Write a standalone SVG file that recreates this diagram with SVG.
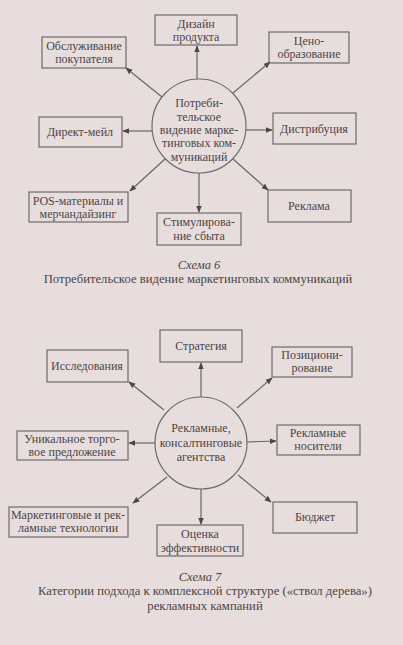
<svg xmlns="http://www.w3.org/2000/svg" width="403" height="645" viewBox="0 0 403 645" font-family="'Liberation Serif', 'Times New Roman', 'DejaVu Serif', serif">
<style>
.bg{fill:#e8dddd}
.box{fill:none;stroke:#6e6a6a;stroke-width:1.2}
.hub{fill:none;stroke:#6e6a6a;stroke-width:1.2}
text{font-family:'Liberation Serif','Times New Roman','DejaVu Serif',serif;font-size:12px;fill:#4a4646;text-anchor:middle}
.cap{font-style:italic;font-size:12.5px}
.capt{font-size:12.7px}
.edge{stroke:#6a6666;stroke-width:1.2;fill:none;marker-end:url(#ah)}
</style>
<defs>
<marker id="ah" viewBox="0 0 10 10" refX="9" refY="5" markerWidth="7" markerHeight="7" markerUnits="userSpaceOnUse" orient="auto">
<path d="M0,1 L10,5 L0,9 z" fill="#4a4646"/>
</marker>
</defs>
<rect class="bg" x="0" y="0" width="403" height="645"/>

<!-- Diagram 6 -->
<g id="hub6">
<circle class="hub" cx="199" cy="126" r="47"/>
<text x="199" y="107">Потреби-</text>
<text x="199" y="121">тельское</text>
<text x="199" y="134">видение марке-</text>
<text x="199" y="147">тинговых ком-</text>
<text x="199" y="161">муникаций</text>
</g>
<g id="n6-design"><rect class="box" x="155" y="15" width="82" height="30"/><text x="196" y="28">Дизайн</text><text x="196" y="41">продукта</text></g>
<g id="n6-service"><rect class="box" x="42" y="37" width="84" height="31"/><text x="84" y="50">Обслуживание</text><text x="84" y="63">покупателя</text></g>
<g id="n6-price"><rect class="box" x="269" y="32" width="80" height="31"/><text x="309" y="45">Цено-</text><text x="309" y="58">образование</text></g>
<g id="n6-direct"><rect class="box" x="39" y="117" width="83" height="30"/><text x="80" y="136">Директ-мейл</text></g>
<g id="n6-distr"><rect class="box" x="273" y="113" width="83" height="31"/><text x="314" y="133">Дистрибуция</text></g>
<g id="n6-pos"><rect class="box" x="29" y="192" width="99" height="30"/><text x="78" y="205">POS-материалы и</text><text x="78" y="218">мерчандайзинг</text></g>
<g id="n6-promo"><rect class="box" x="157" y="213" width="84" height="32"/><text x="199" y="226">Стимулирова-</text><text x="199" y="240">ние сбыта</text></g>
<g id="n6-ads"><rect class="box" x="268" y="190" width="83" height="32"/><text x="309" y="210">Реклама</text></g>

<g id="edges6">
<line class="edge" x1="197" y1="79" x2="197" y2="46"/>
<line class="edge" x1="162" y1="97" x2="126" y2="68"/>
<line class="edge" x1="233" y1="93" x2="270" y2="62"/>
<line class="edge" x1="152" y1="131" x2="123" y2="131"/>
<line class="edge" x1="246" y1="130" x2="272" y2="130"/>
<line class="edge" x1="165" y1="159" x2="130" y2="191"/>
<line class="edge" x1="199" y1="173" x2="199" y2="212"/>
<line class="edge" x1="233" y1="159" x2="268" y2="190"/>
</g>

<text class="cap" x="199" y="269">Схема 6</text>
<text class="capt" x="198" y="283">Потребительское видение маркетинговых коммуникаций</text>

<!-- Diagram 7 -->
<g id="hub7">
<circle class="hub" cx="201" cy="443" r="46"/>
<text x="201" y="432">Рекламные,</text>
<text x="201" y="447">консалтинговые</text>
<text x="201" y="461">агентства</text>
</g>
<g id="n7-strategy"><rect class="box" x="160" y="330" width="82" height="32"/><text x="201" y="350">Стратегия</text></g>
<g id="n7-research"><rect class="box" x="47" y="350" width="81" height="32"/><text x="87" y="370">Исследования</text></g>
<g id="n7-position"><rect class="box" x="272" y="347" width="80" height="30"/><text x="312" y="359">Позициони-</text><text x="312" y="372">рование</text></g>
<g id="n7-usp"><rect class="box" x="17" y="431" width="111" height="29"/><text x="72" y="443">Уникальное торго-</text><text x="72" y="456">вое предложение</text></g>
<g id="n7-media"><rect class="box" x="277" y="425" width="83" height="30"/><text x="318" y="437">Рекламные</text><text x="318" y="450">носители</text></g>
<g id="n7-tech"><rect class="box" x="9" y="507" width="119" height="30"/><text x="68" y="519">Маркетинговые и рек-</text><text x="68" y="532">ламные технологии</text></g>
<g id="n7-eval"><rect class="box" x="157" y="525" width="86" height="31"/><text x="200" y="538">Оценка</text><text x="200" y="552">эффективности</text></g>
<g id="n7-budget"><rect class="box" x="273" y="502" width="84" height="31"/><text x="315" y="521">Бюджет</text></g>

<g id="edges7">
<line class="edge" x1="201" y1="397" x2="201" y2="363"/>
<line class="edge" x1="164" y1="410" x2="129" y2="382"/>
<line class="edge" x1="237" y1="408" x2="272" y2="378"/>
<line class="edge" x1="155" y1="443" x2="129" y2="443"/>
<line class="edge" x1="247" y1="442" x2="276" y2="441"/>
<line class="edge" x1="167" y1="477" x2="133" y2="503"/>
<line class="edge" x1="201" y1="489" x2="201" y2="524"/>
<line class="edge" x1="238" y1="475" x2="271" y2="502"/>
</g>

<text class="cap" x="200" y="581">Схема 7</text>
<text class="capt" x="205" y="595">Категории подхода к комплексной структуре («ствол дерева»)</text>
<text class="capt" x="205" y="610">рекламных кампаний</text>
</svg>
